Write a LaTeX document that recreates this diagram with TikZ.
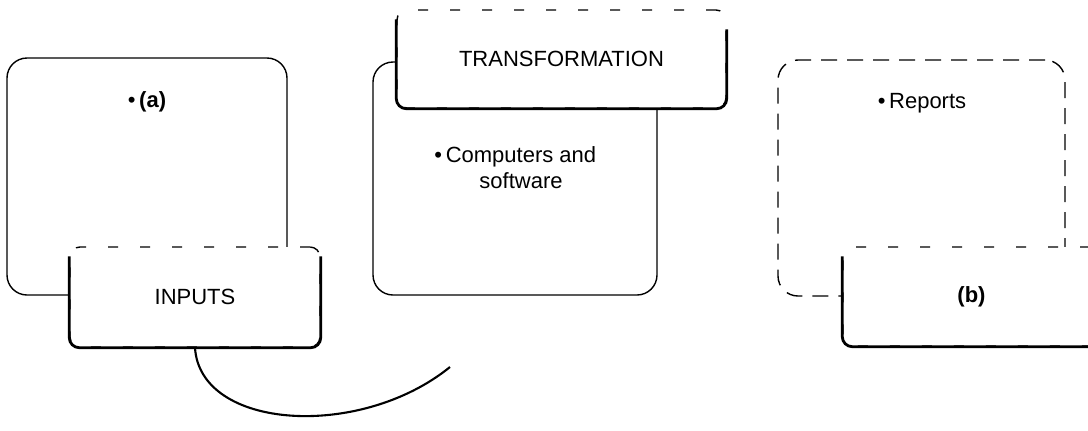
\documentclass[tikz,border=0pt]{standalone}
\usepackage{fontspec}
\setmainfont{Liberation Sans}
\usepackage{tikz}
\usetikzlibrary{calc,backgrounds}
\newcommand{\inkcolor}{black}
\newcommand{\thickness}{0.7pt}
\newcommand{\crad}{5pt}
\tikzset{
  bigbox/.style={draw=\inkcolor, line width=\thickness, rounded corners=2*\crad, inner sep=0pt},
  headbox/.style={draw=\inkcolor, line width=\thickness, rounded corners=\crad, fill=white,
    dash pattern=on 5pt off 11pt, inner sep=0pt, font=\fontsize{11}{13}\selectfont},
  headedge/.style={draw=\inkcolor, line width=2*\thickness, rounded corners=\crad},
  label/.style={font=\fontsize{11}{13}\selectfont, inner sep=0pt}
}

\begin{document}
\begin{tikzpicture}[x=0.5pt,y=-0.5pt]
\useasboundingbox (0,0) rectangle (1088,430);
%inputs
\node[bigbox, minimum width=140pt, minimum height=118.5pt] (abox) at (147,176.5) {};
\node[label] (a) at (147,102) {\textbullet\,\textbf{(a)}};
\node[headbox, minimum width=125pt, minimum height=50pt] (inputs) at (195,297) {INPUTS};
\draw[headedge] ([yshift=-\crad]inputs.north west) -- (inputs.south west) -- (inputs.south east) -- ([yshift=-\crad]inputs.north east);
\coordinate (arcend) at (450,367);
\draw[\inkcolor, line width=1.5*\thickness] (inputs.south) .. controls (200,430) and (360,440) .. (arcend);
%transformation
\node[bigbox, minimum width=142pt, minimum height=116.5pt] (tbox) at (515,178.5) {};
\node[label, align=center] (computers) at (521,167.5) {\llap{\textbullet\,}Computers and\\software};
\node[headbox, minimum width=164.5pt, minimum height=49pt] (transformation) at (561.5,59) {TRANSFORMATION};
\draw[headedge] ([yshift=-\crad]transformation.north west) -- (transformation.south west) -- (transformation.south east) -- ([yshift=-2*\crad]transformation.north east);
%outputs
\node[bigbox, dash pattern=on 8pt off 5pt, minimum width=143.5pt, minimum height=118pt] (rbox) at (921.5,178) {};
\node[label] (reports) at (922,103) {\textbullet\,Reports};
\node[headbox, minimum width=128.5pt, minimum height=49.5pt] (bbox) at (971.5,296.5) {\textbf{(b)}};
\draw[headedge] ([yshift=-\crad]bbox.north west) -- (bbox.south west) -- (bbox.south east);
\end{tikzpicture}
\end{document}
